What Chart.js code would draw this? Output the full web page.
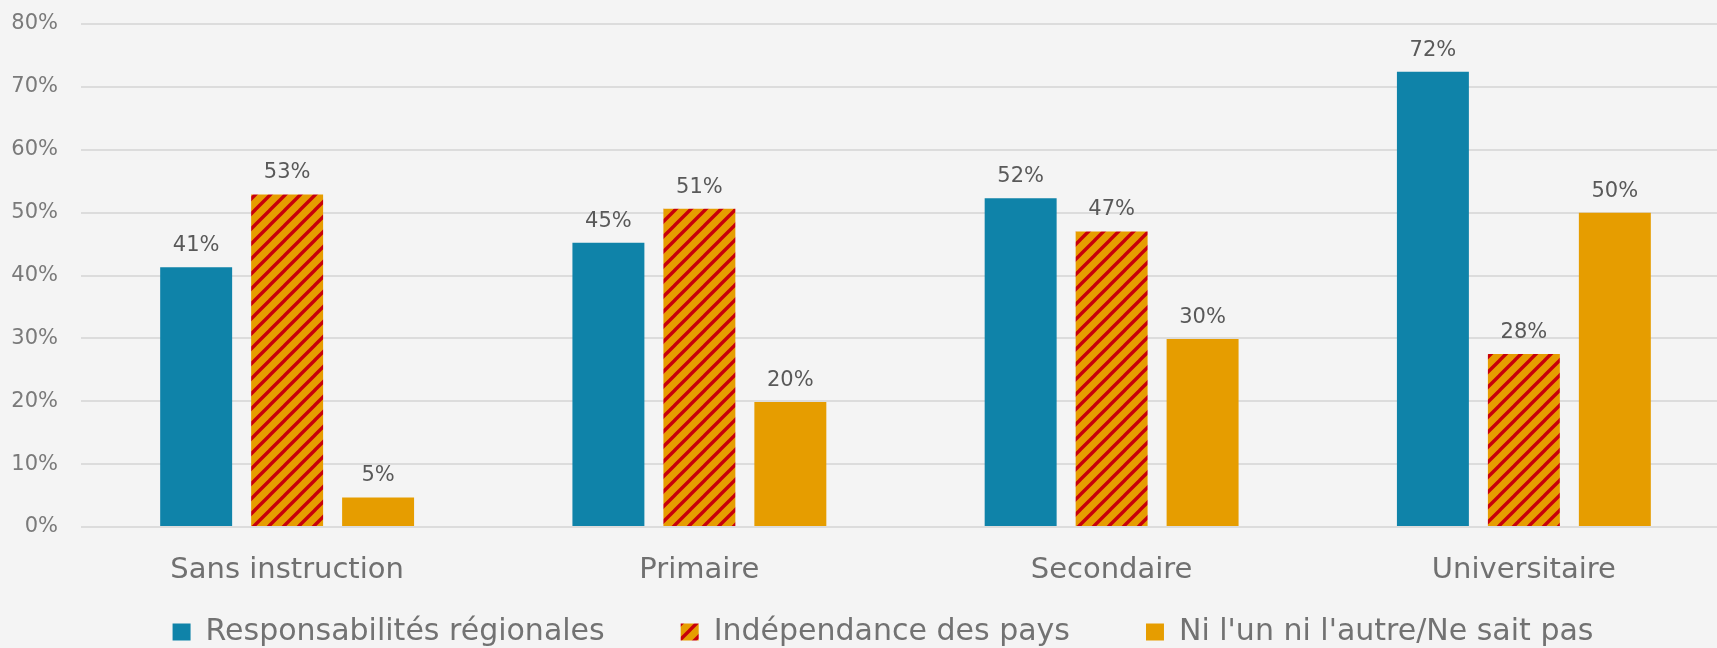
<!DOCTYPE html>
<html><head><meta charset="utf-8">
<script src="https://cdn.jsdelivr.net/npm/chart.js@4/dist/chart.umd.min.js"></script>
<style>
html,body{margin:0;padding:0;background:#f4f4f4;overflow:hidden;width:1717px;height:648px}
#wrap{position:absolute;left:0;top:0;width:1766px;height:648px}
</style></head><body><div id="wrap"><canvas id="c" width="1766" height="648"></canvas></div>
<script>
const categories = ['Sans instruction', 'Primaire', 'Secondaire', 'Universitaire'];
const seriesNames = ['Responsabilités régionales', 'Indépendance des pays', "Ni l'un ni l'autre/Ne sait pas"];
const responsabilites = [41.3, 45.2, 52.3, 72.4];
const independance = [52.9, 50.6, 47.0, 27.5];
const niLunNiLautre = [4.7, 19.9, 29.9, 50.0];
const yMin = 0, yMax = 80, yStep = 10;

const BLUE = '#0f83a9', GOLD = '#e69d00', RED = '#c8000a';
const FONT = "'DejaVu Sans', sans-serif";
const LEGEND_PAD = 76, LEGEND_FIT_H = 57, LEGEND_DRAW_OFFSET = 14, XAXIS_H = 64, LEGEND_SHIFT = 18;

function stripePattern() {
  const s = 15;
  const c = document.createElement('canvas');
  c.width = s; c.height = s;
  const g = c.getContext('2d');
  g.fillStyle = GOLD; g.fillRect(0, 0, s, s);
  g.strokeStyle = RED; g.lineWidth = 3.4;
  g.beginPath();
  for (let k = -1; k <= 1; k++) {
    g.moveTo(k * s - 1, s + 1); g.lineTo(k * s + s + 1, -1);
  }
  g.stroke();
  return g.createPattern(c, 'repeat');
}
const stripes = stripePattern();

const valueLabels = {
  id: 'valueLabels',
  afterDatasetsDraw(chart) {
    const ctx = chart.ctx;
    ctx.save();
    ctx.font = "21px " + FONT;
    ctx.fillStyle = '#595959';
    ctx.textAlign = 'center';
    ctx.textBaseline = 'alphabetic';
    chart.data.datasets.forEach((ds, i) => {
      const meta = chart.getDatasetMeta(i);
      meta.data.forEach((el, j) => {
        ctx.fillText(Math.round(ds.data[j]) + '%', el.x, el.y - 16);
      });
    });
    ctx.restore();
  }
};

const legendLayout = {
  id: 'legendLayout',
  beforeLayout(chart) {
    const lg = chart.legend;
    if (lg && !lg._patched) {
      const f = lg.fit.bind(lg);
      lg.fit = function () { f(); this.height = LEGEND_FIT_H; };
      lg._patched = true;
    }
  },
  afterLayout(chart) {
    const lg = chart.legend;
    if (lg) {
      lg.left += LEGEND_SHIFT; lg.right += LEGEND_SHIFT;
      lg.top = chart.chartArea.bottom + LEGEND_DRAW_OFFSET;
      lg.bottom = chart.height;
      lg.height = lg.bottom - lg.top;
    }
  }
};

new Chart(document.getElementById('c'), {
  type: 'bar',
  data: {
    labels: categories,
    datasets: [
      { label: seriesNames[0], data: responsabilites, backgroundColor: BLUE, borderWidth: 0 },
      { label: seriesNames[1], data: independance, backgroundColor: stripes, borderWidth: 0 },
      { label: seriesNames[2], data: niLunNiLautre, backgroundColor: GOLD, borderWidth: 0 }
    ]
  },
  options: {
    responsive: false,
    animation: false,
    devicePixelRatio: 1,
    categoryPercentage: 0.662,
    barPercentage: 0.791,
    layout: { padding: { left: 0, right: 36, top: 24, bottom: 0 } },
    scales: {
      x: {
        afterFit(scale) { scale.height = XAXIS_H; },
        grid: { display: false },
        border: { display: false },
        ticks: { color: '#707070', font: { family: FONT, size: 29 }, padding: 18, maxRotation: 0, autoSkip: false },
      },
      y: {
        min: yMin, max: yMax,
        afterFit(scale) { scale.width = 81; scale.paddingTop = 0; scale.paddingBottom = 0; },
        grid: { color: '#dcdcdc', lineWidth: 2, drawTicks: false },
        border: { display: false },
        ticks: { stepSize: yStep, color: '#7a7a7a', padding: 23, font: { family: FONT, size: 21 },
          callback: v => v + '%' }
      }
    },
    plugins: {
      legend: {
        position: 'bottom',
        labels: { boxWidth: 18, boxHeight: 17, padding: LEGEND_PAD, color: '#727272', font: { family: FONT, size: 30 } }
      },
      tooltip: { enabled: false }
    }
  },
  plugins: [valueLabels, legendLayout]
});
</script>
</body></html>
